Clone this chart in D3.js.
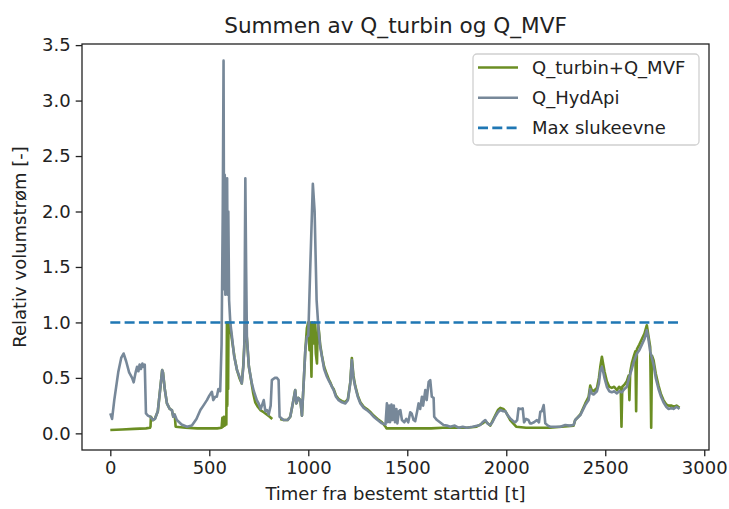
<!DOCTYPE html>
<html>
<head>
<meta charset="utf-8">
<script src="https://cdn.jsdelivr.net/npm/d3@7"></script>
<style>
  body { margin: 0; background: #fff; }
  svg { display: block; font-family: "DejaVu Sans", sans-serif; }
</style>
</head>
<body>
<div id="chart"></div>
<script>
// Q_HydApi (hours, relative flow)
const hydT = [0,9,20,40,55,67,80,95,110,118,128,135,142,148,155,162,168,174,180,190,202,215,225,240,252,262,266,275,286,300,311,318,325,336,360,387,412,435,455,470,488,500,513,520,530,538,546,555,562,568,572,575,578,581,584,587,590,593,596,600,606,614,625,640,655,664,672,677,682,686,690,700,715,725,740,749,760,775,783,791,800,810,816,830,842,850,855,875,895,909,925,934,940,950,960,968,978,985,993,1000,1010,1023,1032,1042,1052,1060,1069,1080,1094,1105,1111,1128,1140,1153,1170,1187,1200,1212,1220,1228,1237,1250,1263,1280,1296,1315,1330,1350,1372,1390,1397,1402,1408,1413,1420,1425,1432,1438,1445,1450,1458,1465,1473,1485,1495,1505,1515,1522,1532,1540,1550,1557,1565,1574,1580,1591,1598,1608,1616,1624,1633,1636,1650,1665,1683,1700,1717,1740,1760,1780,1800,1830,1869,1880,1894,1905,1919,1930,1944,1958,1970,1985,1995,2008,2020,2035,2045,2055,2062,2075,2083,2090,2100,2112,2120,2128,2140,2155,2165,2172,2180,2189,2197,2210,2222,2247,2273,2298,2320,2340,2348,2374,2399,2416,2424,2432,2441,2458,2468,2475,2483,2490,2496,2508,2520,2533,2545,2559,2570,2584,2597,2609,2620,2634,2645,2660,2672,2685,2698,2710,2718,2727,2744,2755,2769,2782,2794,2808,2820,2835,2845,2860,2875];
const hydV = [0.18,0.13,0.3,0.55,0.68,0.72,0.65,0.55,0.5,0.46,0.55,0.6,0.56,0.62,0.58,0.63,0.6,0.62,0.18,0.16,0.15,0.12,0.13,0.2,0.4,0.57,0.55,0.4,0.27,0.22,0.21,0.15,0.17,0.12,0.08,0.06,0.07,0.13,0.21,0.25,0.3,0.34,0.375,0.3,0.33,0.33,0.4,0.38,0.8,2.0,3.36,1.3,2.33,1.25,2.3,1.3,2.3,1.25,2.0,1.2,1.0,0.88,0.7,0.57,0.5,0.45,0.6,0.78,2.3,1.5,0.87,0.6,0.45,0.38,0.3,0.27,0.22,0.3,0.2,0.21,0.17,0.25,0.48,0.5,0.5,0.48,0.15,0.12,0.12,0.15,0.3,0.39,0.27,0.32,0.3,0.16,0.5,0.75,0.87,0.88,1.5,2.25,2.0,1.2,0.93,0.78,0.69,0.58,0.51,0.47,0.45,0.39,0.33,0.3,0.28,0.27,0.3,0.45,0.66,0.5,0.42,0.33,0.27,0.23,0.21,0.18,0.15,0.12,0.09,0.08,0.27,0.1,0.25,0.1,0.26,0.12,0.25,0.1,0.22,0.09,0.2,0.21,0.12,0.1,0.13,0.1,0.19,0.18,0.12,0.11,0.2,0.27,0.22,0.33,0.25,0.39,0.3,0.465,0.48,0.33,0.32,0.15,0.12,0.1,0.075,0.07,0.06,0.07,0.05,0.06,0.05,0.06,0.075,0.1,0.12,0.09,0.075,0.1,0.15,0.19,0.21,0.2,0.2,0.16,0.135,0.11,0.1,0.12,0.225,0.22,0.225,0.1,0.13,0.12,0.09,0.09,0.1,0.12,0.1,0.195,0.2,0.255,0.09,0.07,0.06,0.06,0.06,0.075,0.07,0.075,0.12,0.165,0.255,0.3,0.4,0.36,0.35,0.38,0.45,0.56,0.6,0.55,0.5,0.42,0.38,0.37,0.38,0.36,0.38,0.37,0.4,0.42,0.5,0.58,0.65,0.72,0.75,0.8,0.85,0.93,0.85,0.74,0.62,0.5,0.4,0.33,0.28,0.24,0.22,0.23,0.22,0.24,0.22];

// Q_turbin+Q_MVF (null = no data)
const turbT = [0,60,120,180,200,203,205,215,225,240,252,262,266,275,286,300,311,318,325,330,380,440,500,540,562,566,570,574,578,582,586,589,591,593,595,597,604,610,618,628,640,652,664,672,678,682,686,692,700,712,722,732,745,758,775,790,805,818,838,858,875,895,909,925,934,940,950,960,968,978,985,993,1000,1006,1010,1016,1020,1026,1032,1038,1044,1048,1054,1060,1069,1080,1094,1105,1111,1120,1128,1140,1153,1170,1187,1200,1212,1220,1228,1237,1250,1263,1280,1296,1315,1330,1350,1372,1390,1395,1450,1500,1560,1620,1680,1740,1800,1850,1880,1894,1919,1944,1958,1970,1985,1995,2008,2020,2035,2050,2100,2160,2220,2280,2340,2348,2374,2399,2416,2424,2432,2441,2458,2468,2475,2483,2490,2496,2508,2520,2533,2545,2559,2570,2578,2582,2586,2597,2609,2618,2622,2626,2634,2645,2652,2656,2660,2672,2685,2698,2710,2718,2727,2732,2736,2744,2755,2769,2782,2794,2808,2820,2835,2845,2860,2875];
const turbV = [0.03,0.035,0.04,0.045,0.05,0.06,0.15,0.12,0.13,0.2,0.4,0.57,0.55,0.4,0.27,0.22,0.21,0.15,0.17,0.06,0.05,0.045,0.045,0.045,0.05,0.14,0.06,0.15,0.07,0.15,0.08,1.0,0.25,1.0,0.4,1.0,1.0,0.9,0.8,0.68,0.57,0.5,0.45,0.62,0.85,1.0,0.95,0.8,0.6,0.47,0.36,0.28,0.24,0.21,0.19,0.17,0.15,0.13,null,0.13,0.12,0.12,0.15,0.3,0.39,0.27,0.32,0.3,0.16,0.5,0.75,0.95,1.0,0.75,1.0,0.51,1.0,0.81,1.0,0.72,0.63,1.0,0.92,0.8,0.7,0.6,0.53,0.48,0.46,0.42,0.4,0.34,0.31,0.29,0.28,0.31,0.46,0.68,0.52,0.43,0.34,0.28,0.24,0.22,0.19,0.16,0.13,0.1,0.06,0.045,0.045,0.045,0.045,0.045,0.05,0.05,0.05,0.06,0.09,0.11,0.07,0.16,0.21,0.23,0.22,0.2,0.16,0.12,0.09,0.06,0.05,0.05,0.05,0.06,0.07,0.12,0.17,0.27,0.33,0.43,0.39,0.38,0.41,0.5,0.6,0.69,0.62,0.56,0.47,0.42,0.41,0.42,0.39,0.42,0.41,0.06,0.42,0.44,0.47,0.52,0.3,0.55,0.63,0.7,0.74,0.2,0.76,0.8,0.85,0.9,0.975,0.88,0.78,0.05,0.7,0.66,0.54,0.43,0.35,0.3,0.26,0.25,0.25,0.24,0.25,0.23];

// Max slukeevne
const maxT = [0, 2870];
const maxV = [1.0, 1.0];

const xTicks = [0, 500, 1000, 1500, 2000, 2500, 3000];
const yTicks = [0, 0.5, 1.0, 1.5, 2.0, 2.5, 3.0, 3.5];

const legendNames = ["Q_turbin+Q_MVF", "Q_HydApi", "Max slukeevne"];
const COLORS = { turb: "#6b8e23", hyd: "#778899", max: "#1f77b4" };

const W = 729, H = 509;
const MARGIN = { top: 44, right: 20, bottom: 59, left: 82 };
const innerW = W - MARGIN.left - MARGIN.right;
const innerH = H - MARGIN.top - MARGIN.bottom;
const FS = 18;

const svg = d3.select("#chart").append("svg")
  .attr("width", W).attr("height", H);

const g = svg.append("g")
  .attr("transform", `translate(${MARGIN.left},${MARGIN.top})`);

const x = d3.scaleLinear().domain([-143, 3024]).range([0, innerW]);
const y = d3.scaleLinear().domain([-0.15, 3.51]).range([innerH, 0]);

g.append("defs").append("clipPath").attr("id", "clip")
  .append("rect").attr("width", innerW).attr("height", innerH);

const line = d3.line()
  .defined(d => d[1] != null)
  .x(d => x(d[0]))
  .y(d => y(d[1]));

const plot = g.append("g").attr("clip-path", "url(#clip)");

plot.append("path")
  .datum(turbT.map((t, i) => [t, turbV[i]]))
  .attr("d", line)
  .attr("fill", "none")
  .attr("stroke", COLORS.turb)
  .attr("stroke-width", 2.6)
  .attr("stroke-linejoin", "round");

plot.append("path")
  .datum(hydT.map((t, i) => [t, hydV[i]]))
  .attr("d", line)
  .attr("fill", "none")
  .attr("stroke", COLORS.hyd)
  .attr("stroke-width", 2.6)
  .attr("stroke-linejoin", "round");

plot.append("path")
  .datum(maxT.map((t, i) => [t, maxV[i]]))
  .attr("d", line)
  .attr("fill", "none")
  .attr("stroke", COLORS.max)
  .attr("stroke-width", 2.6)
  .attr("stroke-dasharray", "10,4.3");

// axes
const xAxis = g.append("g")
  .attr("transform", `translate(0,${innerH})`)
  .call(d3.axisBottom(x).tickValues(xTicks).tickSize(6.3).tickPadding(5).tickFormat(d3.format("d")));
const yAxis = g.append("g")
  .call(d3.axisLeft(y).tickValues(yTicks).tickSize(6.3).tickPadding(5).tickFormat(d3.format(".1f")));

[xAxis, yAxis].forEach(a => {
  a.select(".domain").remove();
  a.selectAll("line").attr("stroke", "#222").attr("stroke-width", 1.3);
  a.selectAll("text").attr("fill", "#222").attr("font-size", FS + "px")
    .attr("font-family", "'DejaVu Sans', sans-serif");
});

g.append("rect")
  .attr("width", innerW).attr("height", innerH)
  .attr("fill", "none").attr("stroke", "#222").attr("stroke-width", 1.3);

// title and labels
svg.append("text")
  .attr("x", MARGIN.left + innerW / 2).attr("y", 33)
  .attr("text-anchor", "middle")
  .attr("font-size", "21.6px").attr("fill", "#222")
  .text("Summen av Q_turbin og Q_MVF");

svg.append("text")
  .attr("x", MARGIN.left + innerW / 2).attr("y", 500)
  .attr("text-anchor", "middle")
  .attr("font-size", FS + "px").attr("fill", "#222")
  .text("Timer fra bestemt starttid [t]");

svg.append("text")
  .attr("transform", `translate(26,${MARGIN.top + innerH / 2}) rotate(-90)`)
  .attr("text-anchor", "middle")
  .attr("font-size", FS + "px").attr("fill", "#222")
  .text("Relativ volumstrøm [-]");

// legend
const leg = svg.append("g").attr("transform", "translate(473,54)");
leg.append("rect")
  .attr("width", 226).attr("height", 91).attr("rx", 4)
  .attr("fill", "#fff").attr("fill-opacity", 0.8)
  .attr("stroke", "#d0d0d0").attr("stroke-width", 1.3);

const legColors = [COLORS.turb, COLORS.hyd, COLORS.max];
legendNames.forEach((name, i) => {
  const ry = 13.5 + i * 30.2;
  leg.append("line")
    .attr("x1", 5).attr("x2", 45).attr("y1", ry).attr("y2", ry)
    .attr("stroke", legColors[i]).attr("stroke-width", 2.6)
    .attr("stroke-dasharray", i === 2 ? "10,4.3" : null);
  leg.append("text")
    .attr("x", 59).attr("y", ry)
    .attr("dy", "0.35em")
    .attr("font-size", FS + "px").attr("fill", "#222")
    .text(name);
});
</script>
</body>
</html>
